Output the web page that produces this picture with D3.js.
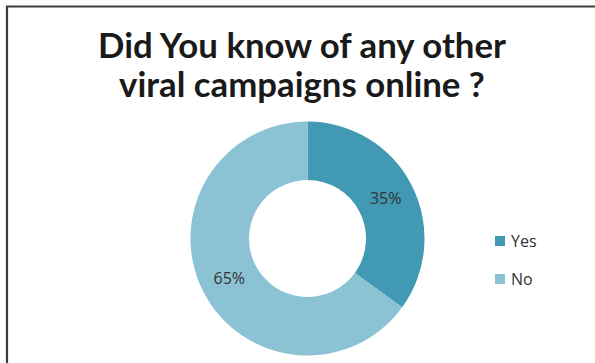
<!DOCTYPE html>
<html>
<head>
<meta charset="utf-8">
<script src="https://cdn.jsdelivr.net/npm/d3@7"></script>
<style>
  html, body { margin: 0; padding: 0; background: #fff; }
  svg { display: block; }
</style>
</head>
<body>
<svg id="chart" width="595" height="363"></svg>
<script>
// Survey answers
const categories = ["Yes", "No"];
const values = [35, 65];
const colors = ["#4199b3", "#8bc2d4"];
const titleLines = ["Did You know of any other", "viral campaigns online ?"];

const svg = d3.select("#chart");

// Frame (top and left edges)
svg.append("path")
  .attr("d", "M7,363 V6.5 H595")
  .attr("fill", "none")
  .attr("stroke", "#3c3c3c")
  .attr("stroke-width", 2.2);

// Title, fitted to its line width
const title = svg.append("g");
const titleWidths = [408, 366];
const titleBaselines = [58, 97];
titleLines.forEach((t, i) => {
  const txt = title.append("text")
    .attr("x", 302)
    .attr("y", titleBaselines[i])
    .attr("text-anchor", "middle")
    .attr("font-family", "Lato, 'Open Sans', sans-serif")
    .attr("font-weight", "bold")
    .attr("font-size", 34)
    .attr("fill", "#1a1a1a")
    .text(t);
  const w = txt.node().getComputedTextLength();
  txt.attr("font-size", 34 * titleWidths[i] / w);
});

// Donut
const cx = 307.5, cy = 238.5;
const outerR = 117, innerR = 58.5;

const pie = d3.pie().sort(null).value(d => d.value);
const arcs = pie(categories.map((c, i) => ({ name: c, value: values[i] })));
const arc = d3.arc().innerRadius(innerR).outerRadius(outerR);
const color = d3.scaleOrdinal().domain(categories).range(colors);

const g = svg.append("g").attr("transform", `translate(${cx},${cy})`);
g.selectAll("path.slice")
  .data(arcs)
  .join("path")
  .attr("class", "slice")
  .attr("d", arc)
  .attr("fill", d => color(d.data.name));

g.selectAll("text.pct")
  .data(arcs)
  .join("text")
  .attr("class", "pct")
  .attr("transform", d => `translate(${arc.centroid(d)})`)
  .attr("dy", "0.35em")
  .attr("text-anchor", "middle")
  .attr("font-family", "'Open Sans', sans-serif")
  .attr("font-size", 16)
  .attr("fill", "#333")
  .text(d => d.data.value + "%");

// Legend
const legend = svg.append("g").attr("transform", "translate(495,236)");
const row = legend.selectAll("g")
  .data(categories)
  .join("g")
  .attr("transform", (d, i) => `translate(0,${i * 38})`);
row.append("rect")
  .attr("width", 10)
  .attr("height", 10)
  .attr("fill", d => color(d));
row.append("text")
  .attr("x", 16)
  .attr("y", 10.5)
  .attr("font-family", "'Open Sans', sans-serif")
  .attr("font-size", 16)
  .attr("fill", "#333")
  .text(d => d);
</script>
</body>
</html>
